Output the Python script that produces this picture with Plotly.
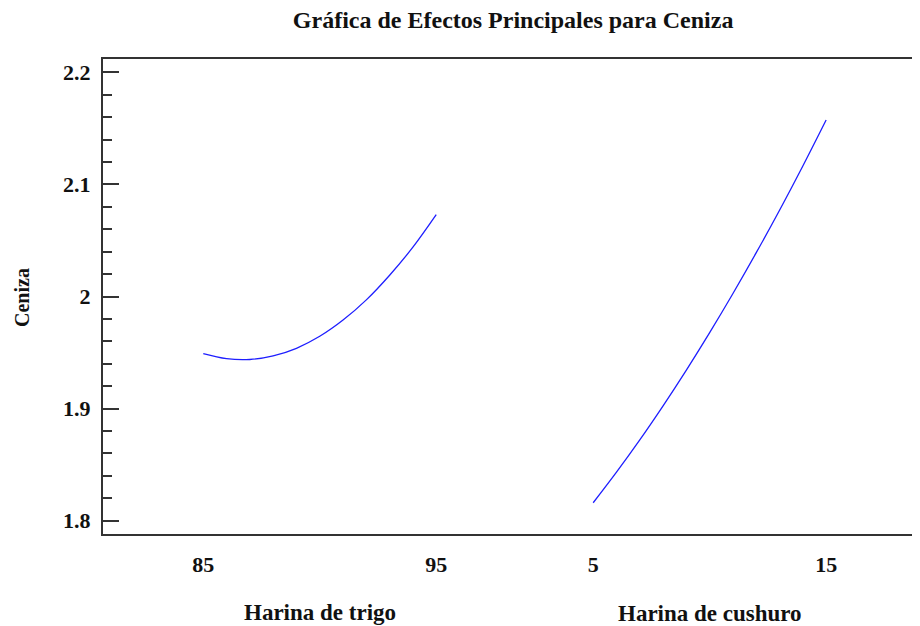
import plotly.graph_objects as go

# ---------- Data ---------- #
trigo_levels = [85, 86, 87, 88, 89, 90, 91, 92, 93, 94, 95]
ceniza_trigo = [1.949, 1.9445, 1.9438, 1.947, 1.9538, 1.9645, 1.979, 1.997, 2.019, 2.044, 2.073]

cushuro_levels = [5, 6, 7, 8, 9, 10, 11, 12, 13, 14, 15]
ceniza_cushuro = [1.816, 1.8433, 1.8721, 1.9025, 1.9344, 1.9678, 2.0027, 2.0391, 2.077, 2.1165, 2.1575]

y_ticks = [1.8, 1.9, 2.0, 2.1, 2.2]
y_labels = ["1.8", "1.9", "2", "2.1", "2.2"]

# ---------- Panel placement on the shared x axis ---------- #
SPAN = 10.0          # width of each factor range
OFFSET = 1.674       # start of the second factor panel

x_trigo = [(v - trigo_levels[0]) / SPAN for v in trigo_levels]
x_cushuro = [OFFSET + (v - cushuro_levels[0]) / SPAN for v in cushuro_levels]

FONT = dict(family="Liberation Serif", color="#111111", weight="bold")
LINE_CLR = "#333333"
CURVE_CLR = "rgb(30,30,255)"

# page body has an 8px margin, so the figure is 8px smaller than the window
W, H = 912, 618
PLOT_H = 475

fig = go.Figure()
fig.add_trace(go.Scatter(x=x_trigo, y=ceniza_trigo, mode="lines",
                         line=dict(color=CURVE_CLR, width=1.3, shape="spline"),
                         showlegend=False, hoverinfo="skip"))
fig.add_trace(go.Scatter(x=x_cushuro, y=ceniza_cushuro, mode="lines",
                         line=dict(color=CURVE_CLR, width=1.3, shape="spline"),
                         showlegend=False, hoverinfo="skip"))

fig.update_layout(
    width=W, height=H,
    margin=dict(l=95, r=0, t=51, b=92),
    paper_bgcolor="white", plot_bgcolor="white",
    title=dict(text="Gráfica de Efectos Principales para Ceniza",
               x=0.502, xref="paper", y=1 - 12 / H, yref="container",
               xanchor="center", yanchor="middle",
               font=dict(FONT, size=24)),
    xaxis=dict(
        range=[-0.4305, 3.077],
        showgrid=False, zeroline=False,
        showline=True, linecolor=LINE_CLR, linewidth=2, mirror=True,
        ticks="",
        tickvals=[x_trigo[0], x_trigo[-1], x_cushuro[0], x_cushuro[-1]],
        ticktext=[str(trigo_levels[0]), str(trigo_levels[-1]),
                  str(cushuro_levels[0]), str(cushuro_levels[-1])],
        ticklabelstandoff=10,
        tickfont=dict(FONT, size=22),
    ),
    yaxis=dict(
        range=[1.7881, 2.2119],
        showgrid=False, zeroline=False,
        showline=True, linecolor=LINE_CLR, linewidth=2, mirror=False,
        ticks="inside", ticklen=16, tickwidth=2, tickcolor=LINE_CLR,
        tickvals=y_ticks, ticktext=y_labels,
        minor=dict(dtick=0.02, ticks="inside", ticklen=9, tickwidth=2, tickcolor=LINE_CLR),
        ticklabelstandoff=6,
        tickfont=dict(FONT, size=22),
    ),
    yaxis2=dict(
        overlaying="y", side="right", anchor="x",
        range=[1.7881, 2.2119],
        showgrid=False, zeroline=False, showline=False,
        ticks="inside", ticklen=10, tickwidth=2, tickcolor=LINE_CLR,
        tickvals=y_ticks, showticklabels=False,
        minor=dict(dtick=0.02, ticks="inside", ticklen=3, tickwidth=2, tickcolor=LINE_CLR),
    ),
)

fig.add_annotation(text="Harina de trigo", xref="x", yref="paper",
                   x=(x_trigo[0] + x_trigo[-1]) / 2, y=-(612 - 534) / PLOT_H,
                   showarrow=False, yanchor="middle", font=dict(FONT, size=23))
fig.add_annotation(text="Harina de cushuro", xref="x", yref="paper",
                   x=(x_cushuro[0] + x_cushuro[-1]) / 2, y=-(613 - 534) / PLOT_H,
                   showarrow=False, yanchor="middle", font=dict(FONT, size=23))
fig.add_annotation(text="Ceniza", xref="paper", yref="paper",
                   x=(22 - 103) / 817, y=(534 - 298) / PLOT_H, textangle=-90,
                   showarrow=False, xanchor="center", yanchor="middle",
                   font=dict(FONT, size=20))

fig.write_html("out.html")
